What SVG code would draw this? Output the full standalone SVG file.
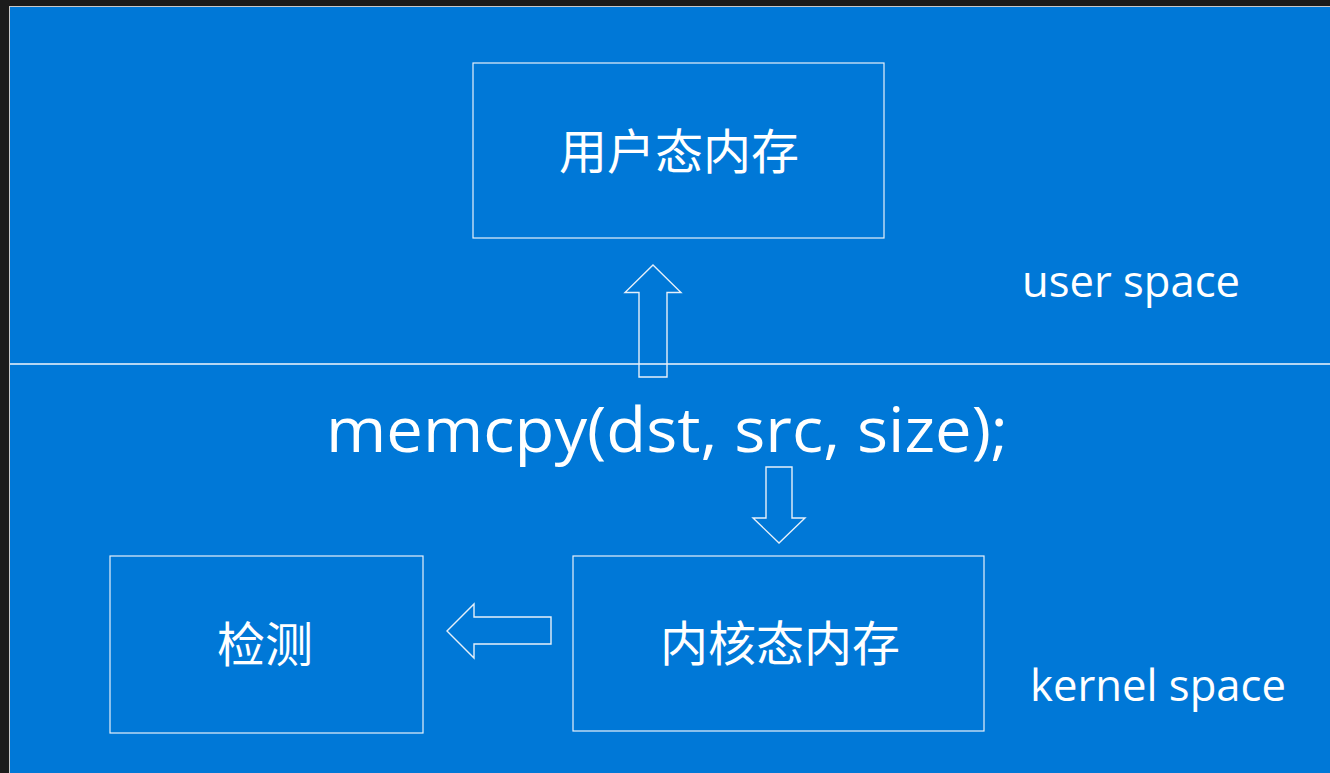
<svg xmlns="http://www.w3.org/2000/svg" width="1330" height="773" viewBox="0 0 1330 773">
  <style>
    .box { fill: none; stroke: #e6f0fa; stroke-width: 1.2; }
    .arrow { fill: none; stroke: #e6f0fa; stroke-width: 1.4; stroke-linejoin: miter; }
    .cjk { font-family: "Noto Sans CJK SC", "Noto Sans", sans-serif; font-size: 48px; fill: #ffffff; text-anchor: middle; }
    .lat { font-family: "Open Sans", "Noto Sans", "DejaVu Sans", sans-serif; fill: #ffffff; }
  </style>
  <rect x="0" y="0" width="1330" height="773" fill="#1b1b1b"/>
  <rect x="9.5" y="6.5" width="1325" height="770" fill="#0078d7" stroke="#c9c9c9" stroke-width="1"/>
  <line x1="10" y1="364" x2="1330" y2="364" stroke="#f0f6fc" stroke-width="1.5"/>

  <g id="user-memory">
    <rect class="box" x="473" y="63" width="411" height="175"/>
    <text class="cjk" x="679" y="169">用户态内存</text>
  </g>
  <g id="kernel-memory">
    <rect class="box" x="573" y="556" width="411" height="175"/>
    <text class="cjk" x="780" y="661">内核态内存</text>
  </g>
  <g id="detect">
    <rect class="box" x="110" y="556" width="313" height="177"/>
    <text class="cjk" x="265" y="662">检测</text>
  </g>
  <g id="memcpy">
    <text class="lat" x="326" y="452" font-size="63" textLength="682" lengthAdjust="spacingAndGlyphs">memcpy(dst, src, size);</text>
  </g>
  <g id="user-space-label">
    <text class="lat" x="1022" y="297" font-size="44" textLength="218" lengthAdjust="spacingAndGlyphs">user space</text>
  </g>
  <g id="kernel-space-label">
    <text class="lat" x="1030" y="701" font-size="44" textLength="256" lengthAdjust="spacingAndGlyphs">kernel space</text>
  </g>

  <g id="connectors">
    <polygon class="arrow" points="653,265 681,292.5 667,292.5 667,377 639,377 639,292.5 625,292.5"/>
    <polygon class="arrow" points="766,467 792,467 792,518 805,518 779,543 753,518 766,518"/>
    <polygon class="arrow" points="447,631 474,604 474,617 551,617 551,644 474,644 474,658"/>
  </g>
</svg>
